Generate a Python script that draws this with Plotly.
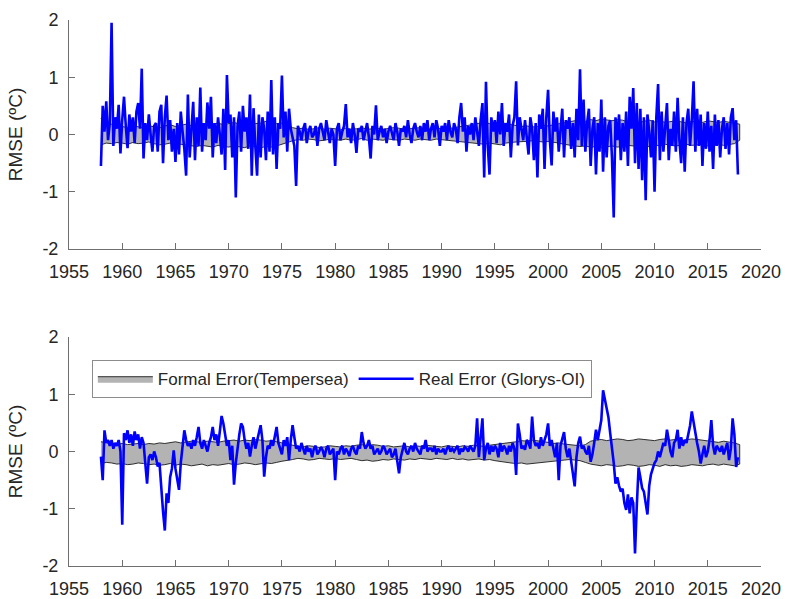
import numpy as np
import plotly.graph_objects as go

# ---------------- data ----------------
start_year = 1958
real_per_year = 6      # real-error samples per year (every two months)
band_per_year = 2      # formal-error samples per year

x_ticks = [1955, 1960, 1965, 1970, 1975, 1980, 1985, 1990, 1995, 2000, 2005, 2010, 2015, 2020]
y_ticks = [-2, -1, 0, 1, 2]
y_tick_text = ["-2", "-1", "0", "1", "2"]

top_real = [
    -0.55, 0.50, 0.05, 0.58, -0.10, 0.20,   # 1958
    1.95, -0.20, 0.30, 0.10, 0.52, -0.33,   # 1959
    0.25, 0.66, 0.15, -0.24, 0.35, 0.05,    # 1960
    0.30, -0.15, 0.40, 0.55, 0.10, 1.15,    # 1961
    -0.42, 0.20, -0.10, 0.35, 0.00, -0.30,  # 1962
    0.15, 0.20, -0.30, 0.40, 0.52, -0.50,   # 1963
    0.30, 0.68, -0.10, 0.25, -0.30, 0.10,   # 1964
    -0.48, 0.20, -0.35, 0.40, 0.05, -0.25,  # 1965
    -0.72, 0.70, -0.40, 0.20, 0.57, -0.45,  # 1966
    0.30, -0.20, 0.82, -0.30, 0.20, -0.10,  # 1967
    0.56, 0.10, 0.66, -0.40, 0.20, -0.15,   # 1968
    0.30, 0.00, -0.35, 0.45, -0.62, 1.04,   # 1969
    0.20, 0.35, -0.40, 0.30, -1.10, 0.15,   # 1970
    0.40, -0.30, 0.50, 0.05, 0.30, -0.25,   # 1971
    0.70, -0.72, 0.46, -0.20, -0.72, 0.35,  # 1972
    -0.40, 0.30, 0.10, -0.45, 0.40, -0.30,  # 1973
    0.95, -0.35, 0.30, -0.60, 0.20, 0.10,   # 1974
    1.03, -0.05, 0.40, -0.30, 0.45, 0.10,   # 1975
    -0.05, -0.20, -0.90, 0.15, 0.05, -0.10, # 1976
    0.10, 0.20, -0.15, 0.05, 0.15, -0.05,   # 1977
    0.00, 0.15, -0.20, 0.10, 0.20, 0.05,    # 1978
    -0.10, 0.25, 0.05, -0.15, 0.10, 0.00,   # 1979
    -0.55, 0.10, 0.20, -0.10, 0.05, 0.15,   # 1980
    0.53, -0.05, 0.10, -0.15, 0.20, 0.00,   # 1981
    -0.32, 0.10, 0.05, 0.15, -0.10, 0.05,   # 1982
    0.20, -0.05, -0.42, 0.15, 0.00, 0.51,   # 1983
    -0.10, 0.05, 0.15, -0.05, 0.10, -0.15,  # 1984
    0.05, 0.15, 0.00, -0.10, 0.20, 0.05,    # 1985
    -0.20, 0.10, 0.05, 0.15, -0.05, 0.25,   # 1986
    0.00, -0.15, 0.10, 0.20, 0.05, -0.05,   # 1987
    0.15, -0.10, 0.20, 0.05, 0.25, -0.10,   # 1988
    0.10, 0.20, -0.05, 0.25, 0.10, -0.20,   # 1989
    0.15, 0.05, 0.20, -0.10, 0.25, 0.05,    # 1990
    -0.05, 0.20, 0.10, -0.15, 0.30, 0.55,   # 1991
    0.05, 0.30, -0.30, 0.15, 0.00, 0.20,    # 1992
    -0.10, 0.30, 0.05, -0.20, 0.25, 0.55,   # 1993
    -0.75, 0.92, -0.20, -0.70, 0.30, 0.05,  # 1994
    0.25, -0.15, 0.40, 0.00, 0.55, -0.20,   # 1995
    0.20, 0.05, 0.35, -0.40, 0.15, 0.30,    # 1996
    0.93, -0.19, 0.30, 0.10, -0.10, 0.25,   # 1997
    0.00, -0.35, 0.30, 0.10, -0.45, 0.20,   # 1998
    -0.75, 0.35, 0.10, 0.45, -0.60, 0.30,   # 1999
    0.78, -0.10, -0.54, 0.40, 0.05, 0.30,   # 2000
    -0.30, 0.15, 0.45, -0.40, 0.25, 0.10,   # 2001
    0.30, -0.25, 0.20, -0.40, 0.45, -0.10,  # 2002
    1.14, -0.20, 0.61, -0.30, 0.20, 0.45,   # 2003
    -0.55, 0.10, 0.30, -0.70, 0.20, -0.30,  # 2004
    0.61, -0.65, 0.30, -0.40, 0.15, 0.25,   # 2005
    -0.40, -1.45, 0.30, -0.10, 0.35, -0.45, # 2006
    0.20, -0.30, 0.40, -0.55, 0.66, 0.10,   # 2007
    0.81, -0.50, 0.55, -0.60, 0.45, -0.80,  # 2008
    0.30, -1.15, 0.35, 0.05, -0.40, 0.25,   # 2009
    -1.00, 0.30, 0.88, -0.45, 0.40, -0.30,  # 2010
    0.20, 0.55, -0.45, 0.10, -0.20, 0.40,   # 2011
    -0.30, 0.64, -0.10, -0.50, 0.30, -0.65, # 2012
    0.20, 0.45, -0.20, 0.25, 0.93, -0.30,   # 2013
    0.45, -0.20, 0.35, -0.55, 0.20, -0.25,  # 2014
    0.40, -0.30, 0.15, -0.60, 0.35, -0.20,  # 2015
    0.25, -0.40, 0.10, 0.30, -0.25, 0.20,   # 2016
    -0.35, 0.30, 0.46, -0.10, 0.25, -0.70,  # 2017
]

bottom_real = [
    -0.09, -0.50, 0.37, 0.15, 0.20, 0.10,   # 1958
    0.20, 0.05, 0.15, 0.10, 0.20, 0.00,     # 1959
    -1.28, 0.32, 0.20, 0.37, 0.15, 0.30,    # 1960
    0.10, 0.35, 0.20, 0.30, 0.05, 0.25,     # 1961
    0.15, -0.20, -0.56, -0.10, -0.05, -0.15,# 1962
    0.00, -0.10, -0.26, -0.20, -0.67, -1.05,# 1963
    -1.38, -0.73, -0.90, -0.45, -0.30, 0.02,# 1964
    -0.30, -0.50, -0.67, -0.20, 0.05, 0.37, # 1965
    0.20, 0.10, 0.15, 0.05, 0.20, 0.10,     # 1966
    0.25, 0.43, 0.15, 0.05, 0.20, 0.10,     # 1967
    0.00, 0.15, 0.25, 0.43, 0.20, 0.30,     # 1968
    0.10, 0.35, 0.62, 0.49, 0.30, 0.10,     # 1969
    0.20, -0.15, 0.10, -0.58, -0.20, 0.10,  # 1970
    0.30, 0.49, 0.43, 0.20, 0.05, 0.15,     # 1971
    -0.09, 0.10, 0.25, 0.05, 0.20, 0.30,    # 1972
    0.46, 0.20, -0.44, -0.10, 0.10, 0.05,   # 1973
    0.20, 0.10, 0.30, 0.43, 0.15, 0.05,     # 1974
    -0.05, 0.20, 0.10, 0.25, -0.15, 0.20,   # 1975
    0.46, 0.25, 0.05, 0.10, 0.00, 0.15,     # 1976
    0.05, -0.05, 0.10, 0.00, 0.05, -0.10,   # 1977
    0.05, 0.10, -0.05, 0.00, 0.08, 0.02,    # 1978
    -0.10, 0.05, 0.10, -0.05, 0.00, 0.05,   # 1979
    -0.50, 0.00, -0.05, 0.05, 0.10, -0.05,  # 1980
    0.05, 0.00, -0.08, 0.05, 0.10, 0.00,    # 1981
    -0.05, 0.10, 0.05, 0.34, 0.15, 0.05,    # 1982
    0.10, 0.20, 0.05, 0.10, -0.05, 0.00,    # 1983
    0.05, -0.05, 0.00, 0.10, 0.05, -0.05,   # 1984
    0.00, 0.05, -0.10, -0.05, 0.05, -0.20,  # 1985
    -0.38, -0.10, 0.05, 0.15, 0.00, -0.05,  # 1986
    0.05, 0.10, 0.00, 0.15, 0.05, 0.00,     # 1987
    -0.05, 0.10, 0.05, 0.20, 0.00, 0.05,    # 1988
    0.05, 0.00, 0.10, -0.05, 0.05, 0.00,    # 1989
    0.00, 0.05, -0.05, 0.05, 0.10, 0.00,    # 1990
    0.05, 0.00, 0.05, 0.10, -0.05, 0.05,    # 1991
    0.00, 0.08, 0.05, 0.00, 0.10, 0.05,     # 1992
    0.00, 0.10, 0.58, -0.10, 0.20, 0.58,    # 1993
    -0.15, 0.05, 0.15, -0.05, 0.10, 0.00,   # 1994
    0.10, 0.05, -0.10, 0.15, 0.00, 0.10,    # 1995
    0.05, -0.05, 0.10, 0.00, 0.15, 0.05,    # 1996
    -0.41, 0.49, 0.30, 0.05, 0.10, 0.03,    # 1997
    0.20, 0.15, 0.05, 0.61, 0.20, 0.10,     # 1998
    0.15, 0.05, 0.25, 0.10, 0.20, 0.30,     # 1999
    0.49, 0.10, 0.20, 0.05, -0.10, 0.15,    # 2000
    -0.50, 0.10, 0.20, 0.34, 0.05, -0.10,   # 2001
    0.05, -0.20, -0.38, -0.61, -0.10, 0.15, # 2002
    0.26, 0.05, 0.10, 0.00, -0.05, 0.10,    # 2003
    -0.18, -0.05, 0.15, 0.38, 0.20, 0.35,   # 2004
    0.55, 1.07, 0.90, 0.80, 0.60, 0.32,     # 2005
    0.10, -0.20, -0.56, -0.45, -0.60, -0.70,# 2006
    -0.65, -0.90, -1.02, -0.75, -1.08, -0.80,# 2007
    -0.90, -1.78, -0.95, -0.28, -0.45, -0.64,# 2008
    -0.70, -0.90, -1.10, -0.60, -0.40, -0.30,# 2009
    -0.20, -0.15, 0.00, -0.10, 0.05, 0.15,  # 2010
    0.10, 0.38, 0.20, 0.00, -0.10, 0.15,    # 2011
    0.20, 0.38, 0.05, 0.25, 0.10, 0.20,     # 2012
    0.15, 0.30, 0.45, 0.70, 0.50, 0.30,     # 2013
    0.15, 0.00, -0.21, -0.05, 0.10, -0.10,  # 2014
    0.00, 0.20, 0.55, 0.10, -0.05, 0.10,    # 2015
    0.05, 0.00, 0.10, -0.05, 0.05, 0.15,    # 2016
    -0.15, 0.05, 0.58, 0.30, -0.27, -0.10,  # 2017
]

top_formal_upper = [
    0.28, 0.15, 0.18, 0.12, 0.14, 0.12, 0.15, 0.13, 0.12, 0.15,   # 1958-1962
    0.14, 0.12, 0.15, 0.17, 0.14, 0.16, 0.18, 0.15, 0.17, 0.19,   # 1963-1967
    0.16, 0.18, 0.20, 0.17, 0.19, 0.21, 0.18, 0.20, 0.22, 0.19,   # 1968-1972
    0.20, 0.23, 0.21, 0.19, 0.20, 0.15, 0.12, 0.10, 0.11, 0.09,   # 1973-1977
    0.10, 0.12, 0.09, 0.11, 0.10, 0.08, 0.11, 0.09, 0.10, 0.12,   # 1978-1982
    0.09, 0.10, 0.11, 0.09, 0.10, 0.12, 0.11, 0.09, 0.10, 0.11,   # 1983-1987
    0.12, 0.10, 0.09, 0.11, 0.10, 0.12, 0.11, 0.13, 0.14, 0.16,   # 1988-1992
    0.18, 0.20, 0.21, 0.19, 0.20, 0.22, 0.19, 0.17, 0.16, 0.14,   # 1993-1997
    0.15, 0.13, 0.14, 0.16, 0.15, 0.17, 0.18, 0.20, 0.22, 0.24,   # 1998-2002
    0.25, 0.23, 0.26, 0.24, 0.27, 0.25, 0.24, 0.26, 0.25, 0.22,   # 2003-2007
    0.24, 0.21, 0.23, 0.25, 0.22, 0.24, 0.21, 0.23, 0.24, 0.22,   # 2008-2012
    0.20, 0.23, 0.22, 0.21, 0.24, 0.22, 0.21, 0.23, 0.22, 0.20,   # 2013-2017
    0.18,                                                         # 2018
]
top_formal_lower = [
    -0.18, -0.15, -0.16, -0.14, -0.15, -0.17, -0.14, -0.16, -0.15, -0.13,
    -0.16, -0.18, -0.17, -0.15, -0.19, -0.17, -0.18, -0.20, -0.21, -0.19,
    -0.20, -0.22, -0.19, -0.21, -0.22, -0.20, -0.21, -0.23, -0.20, -0.22,
    -0.23, -0.21, -0.22, -0.20, -0.18, -0.14, -0.11, -0.09, -0.10, -0.08,
    -0.09, -0.11, -0.10, -0.08, -0.09, -0.10, -0.08, -0.10, -0.09, -0.07,
    -0.10, -0.08, -0.09, -0.10, -0.08, -0.09, -0.10, -0.08, -0.09, -0.10,
    -0.08, -0.09, -0.10, -0.08, -0.09, -0.10, -0.10, -0.12, -0.13, -0.14,
    -0.15, -0.16, -0.17, -0.15, -0.16, -0.18, -0.15, -0.14, -0.13, -0.12,
    -0.12, -0.11, -0.12, -0.13, -0.12, -0.14, -0.15, -0.17, -0.19, -0.20,
    -0.21, -0.20, -0.22, -0.21, -0.23, -0.21, -0.20, -0.22, -0.21, -0.19,
    -0.20, -0.18, -0.19, -0.21, -0.18, -0.20, -0.17, -0.19, -0.20, -0.18,
    -0.17, -0.19, -0.18, -0.17, -0.20, -0.18, -0.17, -0.19, -0.18, -0.16,
    -0.10,
]

bottom_formal_upper = [
    0.17, 0.16, 0.15, 0.13, 0.14, 0.12, 0.13, 0.14, 0.12, 0.14,   # 1958-1962
    0.13, 0.15, 0.14, 0.16, 0.17, 0.15, 0.16, 0.18, 0.17, 0.16,   # 1963-1967
    0.18, 0.17, 0.16, 0.18, 0.19, 0.20, 0.18, 0.20, 0.19, 0.21,   # 1968-1972
    0.20, 0.18, 0.19, 0.17, 0.15, 0.12, 0.10, 0.09, 0.08, 0.10,   # 1973-1977
    0.09, 0.07, 0.08, 0.10, 0.09, 0.08, 0.10, 0.09, 0.11, 0.12,   # 1978-1982
    0.10, 0.12, 0.11, 0.09, 0.10, 0.08, 0.09, 0.10, 0.08, 0.10,   # 1983-1987
    0.09, 0.11, 0.10, 0.09, 0.08, 0.10, 0.09, 0.08, 0.10, 0.09,   # 1988-1992
    0.11, 0.10, 0.09, 0.11, 0.12, 0.13, 0.14, 0.16, 0.17, 0.19,   # 1993-1997
    0.18, 0.20, 0.19, 0.17, 0.16, 0.14, 0.15, 0.13, 0.12, 0.11,   # 1998-2002
    0.10, 0.12, 0.18, 0.20, 0.21, 0.19, 0.20, 0.22, 0.21, 0.19,   # 2003-2007
    0.20, 0.22, 0.21, 0.20, 0.19, 0.21, 0.22, 0.20, 0.21, 0.19,   # 2008-2012
    0.20, 0.22, 0.21, 0.20, 0.18, 0.17, 0.16, 0.18, 0.17, 0.15,   # 2013-2017
    0.12,                                                         # 2018
]
bottom_formal_lower = [
    -0.21, -0.19, -0.20, -0.22, -0.21, -0.23, -0.22, -0.20, -0.21, -0.23,
    -0.22, -0.24, -0.23, -0.21, -0.24, -0.22, -0.23, -0.25, -0.24, -0.22,
    -0.25, -0.23, -0.24, -0.22, -0.21, -0.23, -0.22, -0.20, -0.21, -0.23,
    -0.22, -0.20, -0.21, -0.19, -0.17, -0.15, -0.14, -0.12, -0.13, -0.15,
    -0.14, -0.12, -0.13, -0.14, -0.12, -0.14, -0.13, -0.12, -0.14, -0.16,
    -0.15, -0.17, -0.16, -0.14, -0.15, -0.13, -0.14, -0.15, -0.13, -0.14,
    -0.12, -0.13, -0.14, -0.12, -0.13, -0.14, -0.12, -0.14, -0.13, -0.15,
    -0.14, -0.13, -0.15, -0.14, -0.16, -0.18, -0.19, -0.20, -0.21, -0.20,
    -0.22, -0.21, -0.20, -0.19, -0.18, -0.17, -0.16, -0.15, -0.14, -0.15,
    -0.16, -0.19, -0.22, -0.24, -0.25, -0.23, -0.24, -0.26, -0.25, -0.23,
    -0.24, -0.26, -0.25, -0.23, -0.24, -0.26, -0.23, -0.25, -0.24, -0.26,
    -0.25, -0.23, -0.24, -0.25, -0.23, -0.22, -0.24, -0.22, -0.23, -0.25,
    -0.22,
]

# ---------------- time axes ----------------
t_real = start_year + np.arange(len(top_real)) / real_per_year
t_band = start_year + np.arange(len(top_formal_upper)) / band_per_year

# ---------------- figure ----------------
FONT = "Liberation Sans, Arial, Helvetica, sans-serif"
TXT = "#262626"
AX = "#6e6e6e"
BLUE = "#0000ff"
GREY = "#b3b3b3"

fig = go.Figure()

panels = [
    ("x", "y", top_formal_upper, top_formal_lower, top_real, False),
    ("x2", "y2", bottom_formal_upper, bottom_formal_lower, bottom_real, True),
]
for xa, ya, up, lo, real, show in panels:
    fig.add_trace(go.Scatter(
        x=np.concatenate([t_band, t_band[::-1]]),
        y=np.concatenate([np.array(up), np.array(lo)[::-1]]),
        fill="toself", fillcolor=GREY, mode="lines",
        line=dict(color="#1a1a1a", width=0.9),
        name="Formal Error(Tempersea)", showlegend=show,
        xaxis=xa, yaxis=ya, hoverinfo="skip"))
    fig.add_trace(go.Scatter(
        x=t_real, y=real, mode="lines",
        line=dict(color=BLUE, width=2.6),
        name="Real Error (Glorys-OI)", showlegend=show,
        xaxis=xa, yaxis=ya))

xaxis_common = dict(
    range=[1955, 2020], tickvals=x_ticks, ticks="inside", ticklen=6, tickwidth=1,
    tickcolor=AX, showline=True, linecolor=AX, linewidth=1, showgrid=False,
    zeroline=False, mirror=False, automargin=False,
    tickfont=dict(family=FONT, size=18, color=TXT), ticklabelstandoff=6)
yaxis_common = dict(
    range=[-2, 2], tickvals=y_ticks, ticktext=y_tick_text, ticks="inside",
    ticklen=6, tickwidth=1, tickcolor=AX, showline=True, linecolor=AX,
    linewidth=1, showgrid=False, zeroline=False, mirror=False, automargin=False,
    tickfont=dict(family=FONT, size=18, color=TXT), ticklabelstandoff=6,
    title=dict(text="RMSE (ºC)", font=dict(family=FONT, size=19, color=TXT), standoff=14))

fig.update_layout(
    width=787, height=599,
    margin=dict(l=69, r=26, t=20, b=33),
    paper_bgcolor="white", plot_bgcolor="white",
    xaxis=dict(domain=[0, 1], anchor="y", **xaxis_common),
    yaxis=dict(domain=[0.5806, 1], anchor="x", **yaxis_common),
    xaxis2=dict(domain=[0, 1], anchor="y2", **xaxis_common),
    yaxis2=dict(domain=[0, 0.4194], anchor="x2", **yaxis_common),
    showlegend=True,
    legend=dict(
        orientation="h", x=0.033, y=0.377, xanchor="left", yanchor="top",
        bgcolor="white", bordercolor="#8c8c8c", borderwidth=1,
        font=dict(family=FONT, size=17, color=TXT),
        itemwidth=55, tracegroupgap=0, entrywidth=0),
)

fig.write_html("out.html")
